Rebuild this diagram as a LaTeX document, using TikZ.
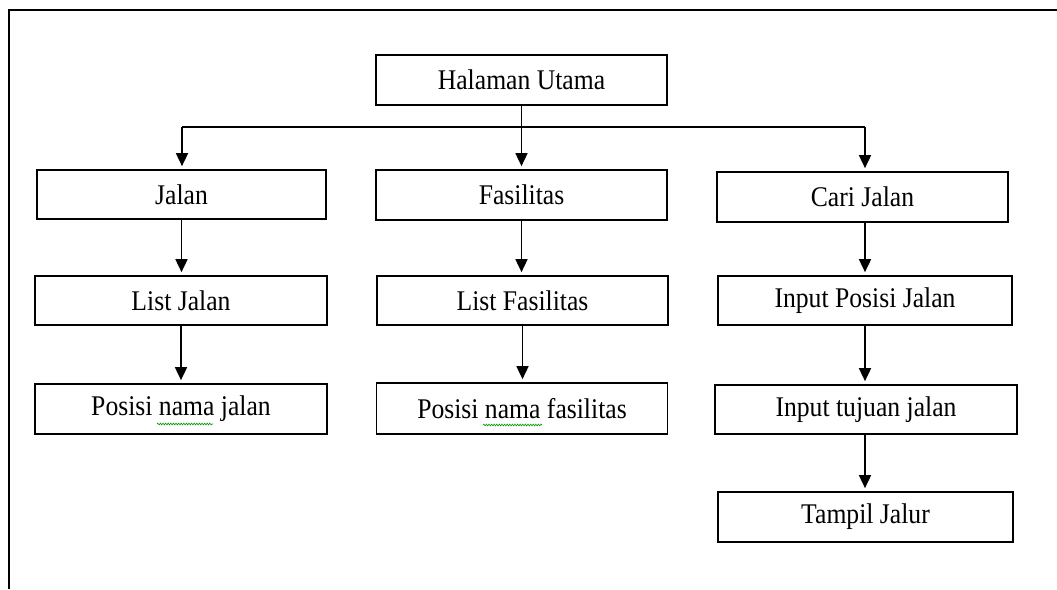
\documentclass[tikz,border=0pt]{standalone}
\usepackage{fontspec}
\newfontfamily\boxfont{Liberation Serif}[FakeStretch=0.9]
\usetikzlibrary{arrows.meta,decorations.pathmorphing}
\tikzset{
  box/.style={draw=black, line width=1.7pt, minimum height=49pt, inner sep=0pt,
    font=\boxfont\fontsize{28.5}{30}\selectfont, text=black},
  conn/.style={draw=black, line width=1.7pt},
  arr/.style={conn, -{Triangle[length=13pt,width=12pt]}, shorten >=3pt},
  frame/.style={draw=black, line width=2.2pt},
  squig/.style={draw=green!60!black, line width=0.6pt,
    decorate, decoration={snake, amplitude=0.9pt, segment length=2.6pt}}
}
\begin{document}
\begin{tikzpicture}[x=1pt,y=-1pt]
\useasboundingbox (0,0) rectangle (1057,589);
\fill[white] (0,0) rectangle (1057,589);
\draw[frame] (9,589) -- (9,10) -- (1057,10);

\node[box, minimum width=291pt, minimum height=50pt] (hu) at (521.5,80) {Halaman Utama};

\node[box, minimum width=289pt] (jl) at (181.5,194.5) {Jalan};
\node[box, minimum width=291pt, minimum height=50pt] (fs) at (521.5,195) {Fasilitas};
\node[box, minimum width=291pt, minimum height=50pt] (cj) at (862.5,197) {Cari Jalan};

\node[box, minimum width=292pt] (lj) at (181,300.5) {List Jalan};
\node[box, minimum width=291pt] (lf) at (522.5,300.5) {List Fasilitas};
\node[box, minimum width=294pt] (ip) at (865,300.5) {Input Posisi Jalan};

\node[box, minimum width=292pt, minimum height=50pt] (pj) at (181,409) {Posisi nama jalan};
\node[box, minimum width=291pt, minimum height=51pt] (pf) at (522,408.5) {Posisi nama fasilitas};
\node[box, minimum width=302pt] (it) at (866,409.5) {Input tujuan jalan};

\node[box, minimum width=295pt, minimum height=50pt] (tj) at (865.5,517) {Tampil Jalur};

\coordinate (bl) at (182,127);
\coordinate (br) at (865,127);

\draw[arr] (hu.south) -- (fs.north);
\draw[conn] (bl) -- (br);
\draw[arr] (bl) -- (bl |- jl.north);
\draw[arr] (br) -- (br |- cj.north);

\draw[arr] (jl.south) -- (jl.south |- lj.north);
\draw[arr] (lj.south) -- (lj.south |- pj.north);
\draw[arr] (fs.south) -- (fs.south |- lf.north);
\draw[arr] (lf.south) -- (lf.south |- pf.north);
\draw[arr] (br |- cj.south) -- (br |- ip.north);
\draw[arr] (br |- ip.south) -- (br |- it.north);
\draw[arr] (br |- it.south) -- (br |- tj.north);

\draw[squig] (157,424) -- (213,424);
\draw[squig] (483,425) -- (542,425);
\end{tikzpicture}
\end{document}
